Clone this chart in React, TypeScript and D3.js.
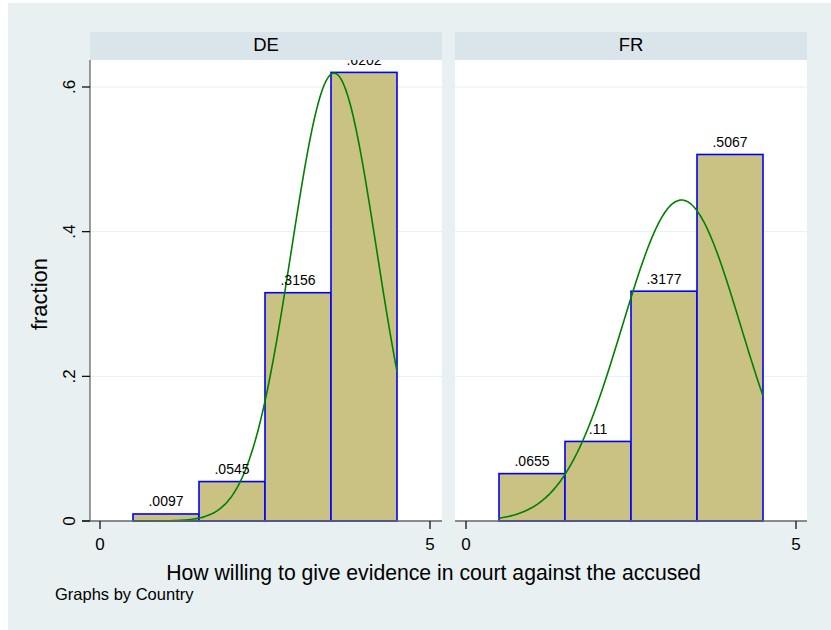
import React from "react";
import * as d3 from "d3";

const countries = ["DE", "FR"];
const categories = [1, 2, 3, 4];
const fractionDE = [0.0097, 0.0545, 0.3156, 0.6202];
const fractionFR = [0.0655, 0.11, 0.3177, 0.5067];
const xTicks = [0, 5];
const yTicks = [0, 0.2, 0.4, 0.6];
const yTickLabels = ["0", ".2", ".4", ".6"];
const xTitle = "How willing to give evidence in court against the accused";
const yTitle = "fraction";
const note = "Graphs by Country";

const W = 831;
const H = 630;
const FONT = "Liberation Sans, Arial, Helvetica, sans-serif";
const BG = "#e8f0f2";
const HEADER = "#d9e5ea";
const BAR = "#c9c283";
const panels = [
  { name: countries[0], values: fractionDE, left: 90, right: 442, x0: 100, x5: 430 },
  { name: countries[1], values: fractionFR, left: 455, right: 807, x0: 466, x5: 796 },
];
const plotTop = 60;
const headerTop = 32;
const baseY = 521;

const y = d3.scaleLinear().domain([0, 0.6]).range([baseY, 87]);
const fmt = (v: number) => d3.format(".4~f")(v).replace(/^0/, "");

function normalCurve(values: number[]) {
  const total = d3.sum(values);
  const mean = d3.sum(values.map((v, i) => v * categories[i])) / total;
  const varc = d3.sum(values.map((v, i) => v * (categories[i] - mean) ** 2)) / total;
  const sd = Math.sqrt(varc);
  const pts: [number, number][] = [];
  const lo = categories[0] - 0.5;
  const hi = categories[categories.length - 1] + 0.5;
  for (let i = 0; i <= 200; i++) {
    const xv = lo + ((hi - lo) * i) / 200;
    const d = Math.exp(-((xv - mean) ** 2) / (2 * varc)) / (sd * Math.sqrt(2 * Math.PI));
    pts.push([xv, d]);
  }
  return pts;
}

function Panel({ p, showY }: { p: typeof panels[0]; showY: boolean }) {
  const x = d3.scaleLinear().domain([0, 5]).range([p.x0, p.x5]);
  const line = d3
    .line<[number, number]>()
    .x((d) => x(d[0]))
    .y((d) => y(d[1]))
    .curve(d3.curveBasis);
  const curve = normalCurve(p.values);
  return (
    <g>
      <rect x={p.left} y={plotTop} width={p.right - p.left} height={baseY - plotTop} fill="#ffffff" />
      {yTicks.slice(1).map((t) => (
        <line key={t} x1={p.left} x2={p.right} y1={y(t)} y2={y(t)} stroke="#e6eef1" strokeWidth={1} />
      ))}
      {p.values.map((v, i) => (
        <rect
          key={i}
          x={x(categories[i] - 0.5)}
          y={y(v)}
          width={x(categories[i] + 0.5) - x(categories[i] - 0.5)}
          height={baseY - y(v)}
          fill={BAR}
          stroke="#0000ff"
          strokeWidth={1.6}
        />
      ))}
      <path d={line(curve) || ""} fill="none" stroke="#008000" strokeWidth={1.6} />
      {p.values.map((v, i) => (
        <text
          key={i}
          x={x(categories[i])}
          y={y(v) - 7.5}
          textAnchor="middle"
          fontSize={14}
          fontFamily={FONT}
          fill="#000"
        >
          {fmt(v)}
        </text>
      ))}
      <rect x={p.left} y={headerTop} width={p.right - p.left} height={plotTop - headerTop} fill={HEADER} />
      <text
        x={(p.left + p.right) / 2}
        y={51.3}
        textAnchor="middle"
        fontSize={18.5}
        fontFamily={FONT}
        fill="#000"
      >
        {p.name}
      </text>
      <line x1={showY ? p.left - 8 : p.left} x2={p.right} y1={baseY} y2={baseY} stroke="#666" strokeWidth={1.3} />
      {xTicks.map((t) => (
        <g key={t}>
          <line x1={x(t)} x2={x(t)} y1={baseY} y2={baseY + 8} stroke="#000" strokeWidth={1.2} />
          <text x={x(t)} y={550} textAnchor="middle" fontSize={17} fontFamily={FONT} fill="#000">
            {t}
          </text>
        </g>
      ))}
      {showY && (
        <g>
          <line x1={p.left} x2={p.left} y1={plotTop} y2={baseY} stroke="#666" strokeWidth={1.3} />
          {yTicks.map((t, i) => (
            <g key={t}>
              <line x1={p.left - 8} x2={p.left} y1={y(t)} y2={y(t)} stroke="#000" strokeWidth={1.2} />
              <text
                transform={`translate(75,${y(t)}) rotate(-90)`}
                textAnchor="middle"
                fontSize={17}
                fontFamily={FONT}
                fill="#000"
              >
                {yTickLabels[i]}
              </text>
            </g>
          ))}
        </g>
      )}
    </g>
  );
}

export default function App() {
  return (
    <svg
      width={W}
      height={H}
      style={{ position: "absolute", left: 0, top: 0, display: "block" }}
    >
      <rect x={0} y={0} width={W} height={H} fill="#ffffff" />
      <rect x={8} y={3} width={W - 8} height={H - 3} fill={BG} />
      {panels.map((p, i) => (
        <Panel key={p.name} p={p} showY={i === 0} />
      ))}
      <text
        transform="translate(47,294) rotate(-90)"
        textAnchor="middle"
        fontSize={22}
        fontFamily={FONT}
        fill="#000"
      >
        {yTitle}
      </text>
      <text x={433.5} y={580} textAnchor="middle" fontSize={21.2} fontFamily={FONT} fill="#000">
        {xTitle}
      </text>
      <text x={55} y={600} fontSize={16.5} fontFamily={FONT} fill="#000">
        {note}
      </text>
    </svg>
  );
}
